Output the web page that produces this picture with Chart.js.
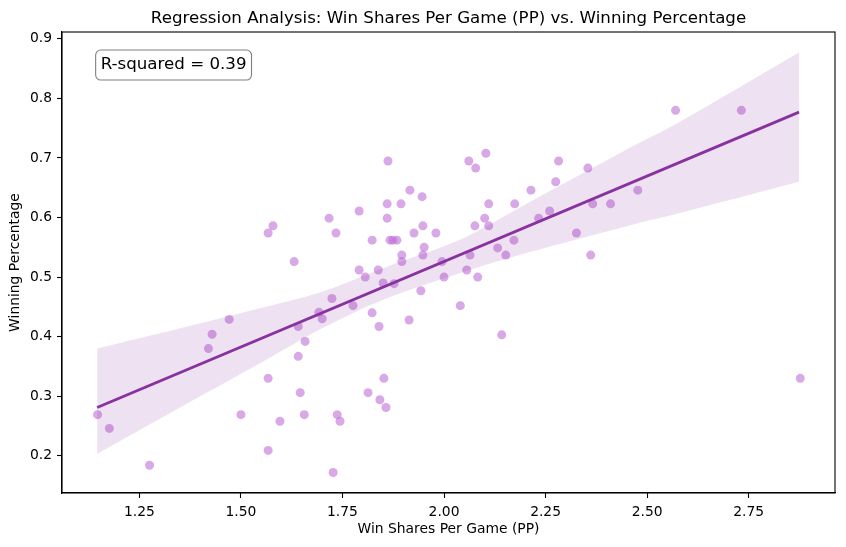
<!DOCTYPE html>
<html>
<head>
<meta charset="utf-8">
<script src="https://cdn.jsdelivr.net/npm/chart.js@4.4.1/dist/chart.umd.min.js"></script>
<style>
html,body{margin:0;padding:0;background:#fff;}
#c{display:block;}
</style>
</head>
<body>
<canvas id="c" width="846" height="547"></canvas>
<script>
// ---- data ----
const winShares = [
  1.147,1.176,1.275,1.420,1.429,1.471,1.500,1.567,1.579,1.567,
  1.567,1.596,1.631,1.641,1.658,1.641,1.646,1.656,1.692,1.700,
  1.862,1.916,1.946,1.860,1.894,1.791,1.717,1.860,1.734,1.926,
  1.948,1.980,1.823,1.867,1.874,1.884,1.951,1.948,1.896,1.896,
  1.995,1.791,1.838,1.806,2.000,1.850,1.877,1.943,1.724,1.776,
  1.823,1.840,1.914,2.040,1.852,1.813,1.842,1.857,1.737,1.744,
  1.727,2.061,2.103,2.078,2.282,2.354,2.275,2.214,2.110,2.174,
  2.366,2.410,2.477,2.260,2.233,2.100,2.076,2.110,2.326,2.172,
  2.132,2.064,2.152,2.361,2.056,2.083,2.142,2.570,2.732,2.877
];
const winPct = [
  0.269,0.246,0.184,0.380,0.404,0.429,0.269,0.574,0.586,0.330,
  0.209,0.258,0.526,0.417,0.392,0.367,0.306,0.269,0.441,0.430,
  0.695,0.646,0.635,0.623,0.623,0.611,0.599,0.599,0.574,0.574,
  0.586,0.574,0.562,0.562,0.562,0.562,0.550,0.537,0.537,0.526,
  0.526,0.512,0.512,0.500,0.500,0.490,0.489,0.477,0.464,0.452,
  0.440,0.417,0.428,0.452,0.330,0.306,0.294,0.281,0.269,0.258,
  0.172,0.695,0.708,0.683,0.695,0.683,0.660,0.646,0.623,0.623,
  0.623,0.623,0.646,0.611,0.599,0.599,0.586,0.586,0.574,0.562,
  0.549,0.537,0.537,0.537,0.512,0.500,0.403,0.780,0.780,0.330
];
const fitX = [1.146, 2.874];
const fitY = [0.281, 0.777];
const bandX     = [1.146, 1.350, 1.567, 1.694, 1.850, 2.040, 2.200, 2.480, 2.571, 2.874];
const bandUpper = [0.380, 0.414, 0.451, 0.474, 0.515, 0.563, 0.622, 0.725, 0.757, 0.877];
const bandLower = [0.203, 0.281, 0.363, 0.412, 0.462, 0.507, 0.540, 0.591, 0.606, 0.660];
const xTicks = [1.25, 1.50, 1.75, 2.00, 2.25, 2.50, 2.75];
const yTicks = [0.2, 0.3, 0.4, 0.5, 0.6, 0.7, 0.8, 0.9];
const titleText = 'Regression Analysis: Win Shares Per Game (PP) vs. Winning Percentage';
const xLabel = 'Win Shares Per Game (PP)';
const yLabel = 'Winning Percentage';
const r2Text = 'R-squared = 0.39';

const FONT = "'DejaVu Sans', sans-serif";
const zip = (xs, ys) => xs.map((x, i) => ({x: x, y: ys[i]}));

const framePlugin = {
  id: 'frameAndBox',
  afterDatasetsDraw(chart) {
    const {ctx, chartArea: a} = chart;
    ctx.save();
    ctx.strokeStyle = '#000';
    ctx.lineWidth = 1.1;
    ctx.strokeRect(a.left, a.top, a.right - a.left, a.bottom - a.top);
    // R-squared text box
    ctx.font = '16.67px ' + FONT;
    const tx = a.left + 0.05 * (a.right - a.left);
    const ty = a.top + 0.05 * (a.bottom - a.top);
    const w = ctx.measureText(r2Text).width;
    const pad = 5;
    const bh = 20;
    ctx.beginPath();
    ctx.roundRect(tx - pad, ty - pad, w + 2 * pad, bh + 2 * pad, 5);
    ctx.fillStyle = 'rgba(255,255,255,0.5)';
    ctx.fill();
    ctx.strokeStyle = 'rgba(0,0,0,0.5)';
    ctx.lineWidth = 1.1;
    ctx.stroke();
    ctx.fillStyle = '#000';
    ctx.textBaseline = 'middle';
    ctx.textAlign = 'left';
    ctx.fillText(r2Text, tx, ty + bh / 2);
    ctx.restore();
  }
};

new Chart(document.getElementById('c'), {
  type: 'scatter',
  data: {
    datasets: [
      {
        label: 'teams',
        data: zip(winShares, winPct),
        backgroundColor: 'rgba(190,110,215,0.6)',
        borderWidth: 0,
        pointRadius: 4.5,
        order: 3
      },
      {
        label: 'ci upper',
        type: 'line',
        data: zip(bandX, bandUpper),
        borderWidth: 0,
        borderColor: 'rgba(0,0,0,0)',
        pointRadius: 0,
        fill: '+1',
        backgroundColor: 'rgba(138,51,160,0.15)',
        tension: 0.3,
        order: 2
      },
      {
        label: 'ci lower',
        type: 'line',
        data: zip(bandX, bandLower),
        borderWidth: 0,
        borderColor: 'rgba(0,0,0,0)',
        pointRadius: 0,
        fill: false,
        tension: 0.3,
        order: 2
      },
      {
        label: 'fit',
        type: 'line',
        data: zip(fitX, fitY),
        borderColor: '#8832a0',
        borderWidth: 2.8,
        pointRadius: 0,
        fill: false,
        order: 1
      }
    ]
  },
  options: {
    responsive: false,
    animation: false,
    devicePixelRatio: 1,
    layout: {padding: {top: 0, right: 11, left: 0, bottom: 0}},
    plugins: {
      legend: {display: false},
      tooltip: {enabled: false},
      title: {
        display: true,
        text: titleText,
        fullSize: false,
        color: '#000',
        font: {family: FONT, size: 16.67, weight: 'normal'},
        padding: {top: 8.5, bottom: 3.5}
      }
    },
    scales: {
      x: {
        type: 'linear',
        min: 1.0595,
        max: 2.9625,
        afterFit(s) { s.height = 54; },
        afterBuildTicks(s) { s.ticks = xTicks.map(v => ({value: v})); },
        border: {display: true, color: '#000', width: 1.1},
        grid: {display: true, drawOnChartArea: false, drawTicks: true, tickLength: 5, tickColor: '#000', tickWidth: 1.1},
        ticks: {
          color: '#000', padding: 6, maxRotation: 0, autoSkip: false,
          font: {family: FONT, size: 13.89},
          callback: v => Number(v).toFixed(2)
        },
        title: {
          display: true, text: xLabel, color: '#000',
          font: {family: FONT, size: 13.89},
          padding: {top: 0, bottom: 9}
        }
      },
      y: {
        type: 'linear',
        min: 0.1375,
        max: 0.9115,
        afterFit(s) { s.width = 62; },
        afterBuildTicks(s) { s.ticks = yTicks.map(v => ({value: v})); },
        border: {display: true, color: '#000', width: 1.1},
        grid: {display: true, drawOnChartArea: false, drawTicks: true, tickLength: 5, tickColor: '#000', tickWidth: 1.1},
        ticks: {
          color: '#000', padding: 5, autoSkip: false,
          font: {family: FONT, size: 13.89},
          callback: v => Number(v).toFixed(1)
        },
        title: {
          display: true, text: yLabel, color: '#000',
          font: {family: FONT, size: 13.89},
          padding: {top: 7.2, bottom: 0}
        }
      }
    }
  },
  plugins: [framePlugin]
});
</script>
</body>
</html>
